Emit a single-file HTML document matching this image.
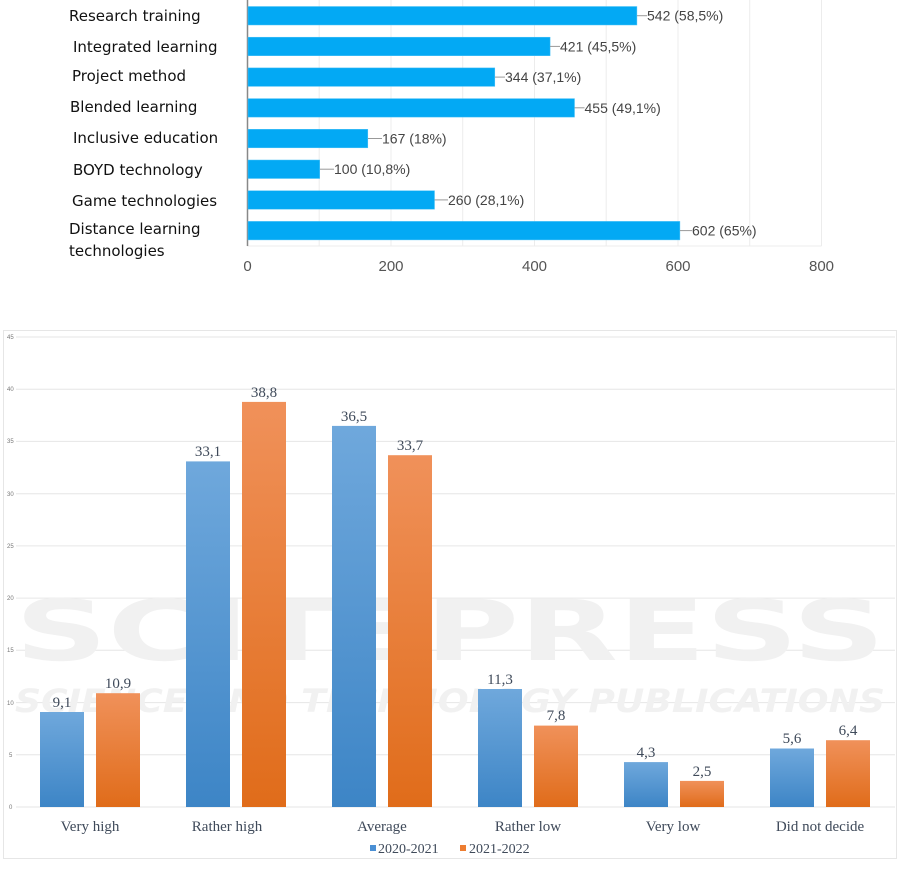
<!DOCTYPE html>
<html><head><meta charset="utf-8"><style>
html,body{margin:0;padding:0;background:#fff;}
svg{display:block;}
</style></head><body>
<svg width="901" height="884" xmlns="http://www.w3.org/2000/svg">
<rect width="901" height="884" fill="#fff"/>
<!-- Top chart -->
<g stroke="#ececec" stroke-width="1">
<line x1="319.2" y1="0" x2="319.2" y2="246"/><line x1="391" y1="0" x2="391" y2="246"/>
<line x1="462.7" y1="0" x2="462.7" y2="246"/><line x1="534.5" y1="0" x2="534.5" y2="246"/>
<line x1="606.2" y1="0" x2="606.2" y2="246"/><line x1="678" y1="0" x2="678" y2="246"/>
<line x1="749.7" y1="0" x2="749.7" y2="246"/><line x1="821.5" y1="0" x2="821.5" y2="246"/>
<line x1="247" y1="246" x2="821.5" y2="246"/>
</g>
<line x1="247.5" y1="0" x2="247.5" y2="246" stroke="#888" stroke-width="1.5"/>
<g fill="#03a9f4" stroke="#4fc3f7" stroke-width="0.5">
<rect x="248" y="6.5" width="388.9" height="18.5"/>
<rect x="248" y="37.2" width="302.1" height="18.5"/>
<rect x="248" y="67.9" width="246.8" height="18.5"/>
<rect x="248" y="98.6" width="326.5" height="18.5"/>
<rect x="248" y="129.3" width="119.8" height="18.5"/>
<rect x="248" y="160" width="71.7" height="18.5"/>
<rect x="248" y="190.7" width="186.5" height="18.5"/>
<rect x="248" y="221.4" width="431.9" height="18.5"/>
</g>
<g stroke="#999" stroke-width="1">
<line x1="637" y1="15.7" x2="647" y2="15.7"/><line x1="550" y1="46.4" x2="560" y2="46.4"/>
<line x1="495" y1="77.1" x2="505" y2="77.1"/><line x1="574.5" y1="107.8" x2="584.5" y2="107.8"/>
<line x1="368" y1="138.5" x2="382" y2="138.5"/><line x1="320" y1="169.2" x2="334" y2="169.2"/>
<line x1="434.5" y1="199.9" x2="448" y2="199.9"/><line x1="680" y1="230.6" x2="692" y2="230.6"/>
</g>
<g font-family="Liberation Sans, sans-serif" font-size="14" fill="#444">
<text x="647" y="20.7">542 (58,5%)</text>
<text x="560" y="51.4">421 (45,5%)</text>
<text x="505" y="82.1">344 (37,1%)</text>
<text x="584.5" y="112.8">455 (49,1%)</text>
<text x="382" y="143.5">167 (18%)</text>
<text x="334" y="174.2">100 (10,8%)</text>
<text x="448" y="204.9">260 (28,1%)</text>
<text x="692" y="235.6">602 (65%)</text>
</g>
<g font-family="Liberation Sans, sans-serif" font-size="15" fill="#555" text-anchor="middle">
<text x="247.5" y="271">0</text><text x="391" y="271">200</text><text x="534.5" y="271">400</text>
<text x="678" y="271">600</text><text x="821.5" y="271">800</text>
</g>
<g font-family="DejaVu Sans, sans-serif" font-size="15" fill="#111">
<text x="69" y="21">Research training</text>
<text x="73" y="52">Integrated learning</text>
<text x="72" y="81">Project method</text>
<text x="70" y="112">Blended learning</text>
<text x="73" y="143">Inclusive education</text>
<text x="73" y="175">BOYD technology</text>
<text x="72" y="206">Game technologies</text>
<text x="69" y="234">Distance learning</text>
<text x="69" y="256">technologies</text>
</g>
<!-- Bottom chart -->
<rect x="3.5" y="330.5" width="893" height="528" fill="none" stroke="#e6e6e6"/>
<defs>
<linearGradient id="gb" x1="0" y1="0" x2="0" y2="1"><stop offset="0" stop-color="#6fa8dc"/><stop offset="1" stop-color="#3d85c6"/></linearGradient>
<linearGradient id="go" x1="0" y1="0" x2="0" y2="1"><stop offset="0" stop-color="#f0915a"/><stop offset="1" stop-color="#e06c1a"/></linearGradient>
</defs>
<g stroke="#e6e6e6" stroke-width="1">
<line x1="16" y1="337" x2="895" y2="337"/><line x1="16" y1="389.2" x2="895" y2="389.2"/>
<line x1="16" y1="441.4" x2="895" y2="441.4"/><line x1="16" y1="493.7" x2="895" y2="493.7"/>
<line x1="16" y1="545.9" x2="895" y2="545.9"/><line x1="16" y1="598.1" x2="895" y2="598.1"/>
<line x1="16" y1="650.3" x2="895" y2="650.3"/><line x1="16" y1="702.6" x2="895" y2="702.6"/>
<line x1="16" y1="754.8" x2="895" y2="754.8"/><line x1="16" y1="807" x2="895" y2="807"/>
</g>
<g font-family="Liberation Sans, sans-serif" font-size="6" fill="#777">
<text x="7" y="339">45</text><text x="7" y="391">40</text><text x="7" y="443">35</text><text x="7" y="496">30</text>
<text x="7" y="548">25</text><text x="7" y="600">20</text><text x="7" y="652">15</text><text x="7" y="705">10</text>
<text x="9" y="757">5</text><text x="9" y="809">0</text>
</g>
<!-- watermark -->
<g font-family="DejaVu Sans, sans-serif" font-weight="bold" fill="#f1f1f1">
<text x="15" y="660" font-size="84" textLength="870" lengthAdjust="spacingAndGlyphs">SCITEPRESS</text>
<text x="15" y="712" font-size="32" textLength="870" lengthAdjust="spacingAndGlyphs" font-style="italic">SCIENCE AND TECHNOLOGY PUBLICATIONS</text>
</g>
<g>
<rect x="40" y="712" width="44" height="95" fill="url(#gb)"/>
<rect x="96" y="693.2" width="44" height="113.8" fill="url(#go)"/>
<rect x="186" y="461.4" width="44" height="345.6" fill="url(#gb)"/>
<rect x="242" y="401.9" width="44" height="405.1" fill="url(#go)"/>
<rect x="332" y="425.9" width="44" height="381.1" fill="url(#gb)"/>
<rect x="388" y="455.2" width="44" height="351.8" fill="url(#go)"/>
<rect x="478" y="689" width="44" height="118" fill="url(#gb)"/>
<rect x="534" y="725.6" width="44" height="81.4" fill="url(#go)"/>
<rect x="624" y="762.1" width="44" height="44.9" fill="url(#gb)"/>
<rect x="680" y="780.9" width="44" height="26.1" fill="url(#go)"/>
<rect x="770" y="748.5" width="44" height="58.5" fill="url(#gb)"/>
<rect x="826" y="740.2" width="44" height="66.8" fill="url(#go)"/>
</g>
<g font-family="Liberation Serif, serif" font-size="15" fill="#3f4a5a" text-anchor="middle">
<text x="62" y="707">9,1</text><text x="118" y="688">10,9</text>
<text x="208" y="456">33,1</text><text x="264" y="397">38,8</text>
<text x="354" y="421">36,5</text><text x="410" y="450">33,7</text>
<text x="500" y="684">11,3</text><text x="556" y="720">7,8</text>
<text x="646" y="757">4,3</text><text x="702" y="776">2,5</text>
<text x="792" y="743">5,6</text><text x="848" y="735">6,4</text>
<text x="90" y="831">Very high</text><text x="227" y="831">Rather high</text>
<text x="382" y="831">Average</text><text x="528" y="831">Rather low</text>
<text x="673" y="831">Very low</text><text x="820" y="831">Did not decide</text>
</g>
<rect x="370" y="845" width="6" height="6" fill="#4a8fd4"/>
<rect x="460" y="845" width="6" height="6" fill="#ed7d31"/>
<g font-family="Liberation Serif, serif" font-size="14" fill="#3f4a5a">
<text x="378" y="853">2020-2021</text><text x="469" y="853">2021-2022</text>
</g>
</svg>
</body></html>
